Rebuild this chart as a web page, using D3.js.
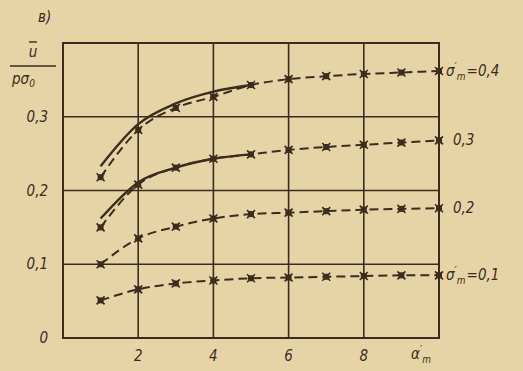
<!DOCTYPE html>
<html>
<head>
<meta charset="utf-8">
<script src="https://cdn.jsdelivr.net/npm/d3@7"></script>
<style>
  html, body { margin: 0; padding: 0; background: #e6d4a6; }
  svg { display: block; }
  text { font-family: "DejaVu Sans Condensed", "DejaVu Sans", sans-serif; font-style: italic; fill: #3b2c1e; }
</style>
</head>
<body>
<svg id="chart" width="523" height="371"></svg>
<script>
// ── Data ───────────────────────────────────────────────────────────────────

const alphaVals = [1, 2, 3, 4, 5, 6, 7, 8, 9, 10];

// dashed curves with markers, one per σ'm
const sigma01 = [0.051, 0.066, 0.074, 0.078, 0.081, 0.082, 0.083, 0.084, 0.085, 0.085];
const sigma02 = [0.100, 0.135, 0.151, 0.162, 0.168, 0.170, 0.172, 0.174, 0.175, 0.176];
const sigma03 = [0.150, 0.208, 0.231, 0.243, 0.249, 0.255, 0.259, 0.262, 0.265, 0.268];
const sigma04 = [0.218, 0.282, 0.312, 0.327, 0.343, 0.351, 0.355, 0.358, 0.360, 0.362];

// solid curves near the start
const solidAlpha = [1, 2, 3, 4, 5];
const solid03 = [0.162, 0.211, 0.231, 0.243, 0.249];
const solid04 = [0.233, 0.290, 0.318, 0.334, 0.343];

const xTicks = [2, 4, 6, 8];
const yTicks = [0, 0.1, 0.2, 0.3];
const yTickLabels = ['0', '0,1', '0,2', '0,3'];

const curveLabels = [
  { sigma: true,  val: '=0,4', y: 0.362 },
  { sigma: false, val: '0,3',  y: 0.268 },
  { sigma: false, val: '0,2',  y: 0.176 },
  { sigma: true,  val: '=0,1', y: 0.085 }
];

// ── Layout ─────────────────────────────────────────────────────────────────

const ink = '#3b2c1e';
const margin = { left: 63, right: 84, top: 43, bottom: 33 };
const W = 523, H = 371;

const x = d3.scaleLinear().domain([0, 10]).range([margin.left, W - margin.right]);
const y = d3.scaleLinear().domain([0, 0.4]).range([H - margin.bottom, margin.top]);

const svg = d3.select('#chart');

// ── Grid & frame ───────────────────────────────────────────────────────────

const grid = svg.append('g').attr('stroke', ink).attr('stroke-width', 1.6);

grid.selectAll('line.vx').data(xTicks).join('line')
  .attr('x1', d => x(d)).attr('x2', d => x(d))
  .attr('y1', y(0)).attr('y2', y(0.4));

grid.selectAll('line.hy').data(yTicks.slice(1)).join('line')
  .attr('x1', x(0)).attr('x2', x(10))
  .attr('y1', d => y(d)).attr('y2', d => y(d));

grid.append('rect')
  .attr('x', x(0)).attr('y', y(0.4))
  .attr('width', x(10) - x(0)).attr('height', y(0) - y(0.4))
  .attr('fill', 'none').attr('stroke-width', 2);

// ── Tick labels ────────────────────────────────────────────────────────────

svg.append('g').selectAll('text').data(xTicks).join('text')
  .attr('x', d => x(d)).attr('y', y(0) + 23)
  .attr('text-anchor', 'middle').attr('font-size', 15)
  .text(d => d);

svg.append('g').selectAll('text').data(yTicks).join('text')
  .attr('x', 48).attr('y', d => y(d) + 5)
  .attr('text-anchor', 'end').attr('font-size', 15)
  .text((d, i) => yTickLabels[i]);

// ── Curves ─────────────────────────────────────────────────────────────────

const line = d3.line()
  .x(d => x(d[0])).y(d => y(d[1]))
  .curve(d3.curveMonotoneX);

const dashed = [sigma01, sigma02, sigma03, sigma04];
const curves = svg.append('g').attr('fill', 'none').attr('stroke', ink);

dashed.forEach(series => {
  const pts = alphaVals.map((a, i) => [a, series[i]]);
  curves.append('path')
    .attr('d', line(pts))
    .attr('stroke-width', 2)
    .attr('stroke-dasharray', '9,5');

  const m = svg.append('g').attr('stroke', ink).attr('stroke-width', 1.6);
  pts.forEach(p => {
    const cx = x(p[0]), cy = y(p[1]);
    m.append('path').attr('d', `M${cx - 4},${cy - 4}L${cx + 4},${cy + 4}M${cx - 4},${cy + 4}L${cx + 4},${cy - 4}`);
    m.append('rect').attr('x', cx - 3).attr('y', cy - 3).attr('width', 6).attr('height', 6)
      .attr('fill', ink).attr('stroke', 'none');
  });
});

[solid03, solid04].forEach(series => {
  curves.append('path')
    .attr('d', line(solidAlpha.map((a, i) => [a, series[i]])))
    .attr('stroke-width', 2.4);
});

// ── Labels with σ'm / α'm ──────────────────────────────────────────────────

function primed(sym, x0, y0, rest) {
  const t = svg.append('text').attr('x', x0).attr('y', y0).attr('font-size', 15);
  t.append('tspan').text(sym);
  t.append('tspan').attr('dy', -6).attr('font-size', 11).text('\u2032');
  t.append('tspan').attr('dy', 10).attr('font-size', 10).text('m');
  if (rest) t.append('tspan').attr('dy', -4).attr('dx', 1).text(rest);
}

curveLabels.forEach(c => {
  const ly = y(c.y) + 5;
  if (c.sigma) {
    primed('σ', x(10) + 7, ly, c.val);
  } else {
    svg.append('text').attr('x', x(10) + 14).attr('y', ly).attr('font-size', 15).text(c.val);
  }
});

primed('α', 411, y(0) + 21);

// ── Y axis title ───────────────────────────────────────────────────────────

svg.append('text').attr('x', 38).attr('y', 22).attr('font-size', 15).text('в)');
svg.append('text').attr('x', 33).attr('y', 57).attr('font-size', 15)
  .attr('text-anchor', 'middle').text('u');
svg.append('line').attr('x1', 29).attr('x2', 37).attr('y1', 42).attr('y2', 42)
  .attr('stroke', ink).attr('stroke-width', 1.4);
svg.append('line').attr('x1', 10).attr('x2', 56).attr('y1', 66).attr('y2', 66)
  .attr('stroke', ink).attr('stroke-width', 1.6);
const den = svg.append('text').attr('x', 12).attr('y', 84).attr('font-size', 15);
den.append('tspan').text('pσ');
den.append('tspan').attr('dy', 3).attr('font-size', 10).text('0');
</script>
</body>
</html>
